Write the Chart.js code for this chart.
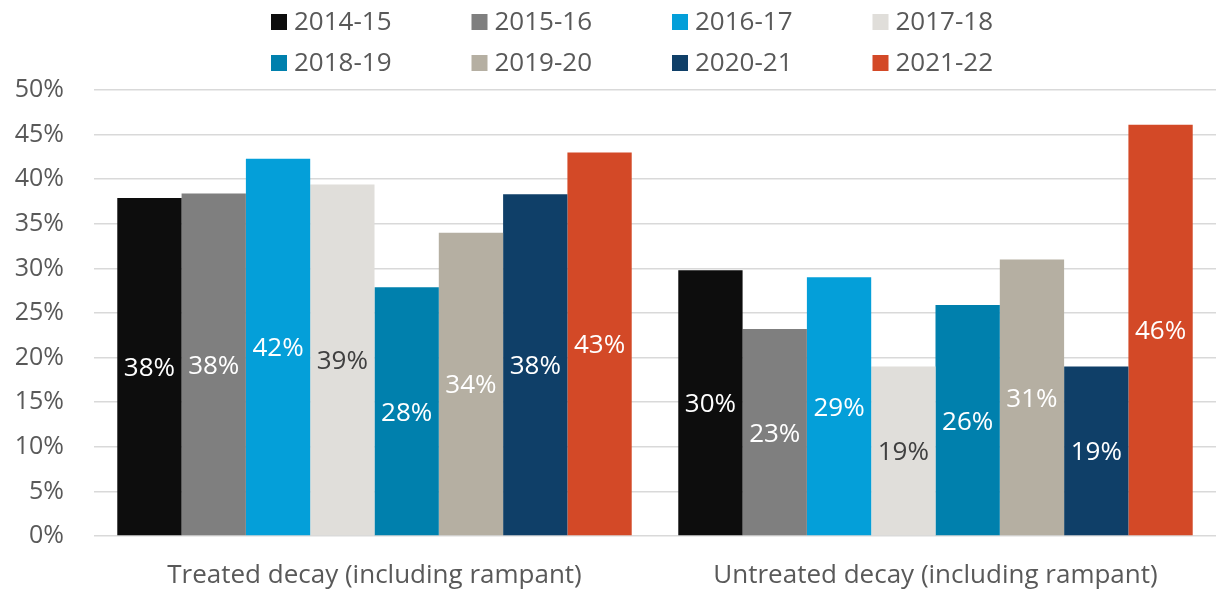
<!DOCTYPE html>
<html>
<head>
<meta charset="utf-8">
<script src="https://cdn.jsdelivr.net/npm/chart.js@4.4.1/dist/chart.umd.min.js"></script>
<style>
  html, body { margin: 0; padding: 0; background: #fff; }
  #wrap { width: 1216px; height: 594px; }
</style>
</head>
<body>
<div id="wrap"><canvas id="myChart" width="1216" height="594"></canvas></div>
<script>
const categories = ['Treated decay (including rampant)', 'Untreated decay (including rampant)'];
const years = ['2014-15', '2015-16', '2016-17', '2017-18', '2018-19', '2019-20', '2020-21', '2021-22'];

// one array per year: [treated, untreated]
const y2014_15 = [37.9, 29.8];
const y2015_16 = [38.4, 23.2];
const y2016_17 = [42.3, 29.0];
const y2017_18 = [39.4, 19.0];
const y2018_19 = [27.9, 25.9];
const y2019_20 = [34.0, 31.0];
const y2020_21 = [38.3, 19.0];
const y2021_22 = [43.0, 46.1];

const yTicks = [0, 5, 10, 15, 20, 25, 30, 35, 40, 45, 50];

const colors = ['#0d0d0d', '#7f7f7f', '#049fd9', '#e0deda', '#0080ad', '#b5afa2', '#0f3f68', '#d34927'];
const labelColors = ['#fff', '#fff', '#fff', '#404040', '#fff', '#fff', '#fff', '#fff'];

const series = [y2014_15, y2015_16, y2016_17, y2017_18, y2018_19, y2019_20, y2020_21, y2021_22];

const FONT = "'Open Sans', 'Noto Sans', sans-serif";

const data = {
  labels: categories,
  datasets: series.map((vals, i) => ({
    label: years[i],
    data: vals,
    backgroundColor: colors[i],
    borderWidth: 0,
    categoryPercentage: 0.917,
    barPercentage: 1.0
  }))
};

// value labels in the middle of each bar
const barLabels = {
  id: 'barLabels',
  afterDatasetsDraw(chart) {
    const ctx = chart.ctx;
    ctx.save();
    ctx.font = '26px ' + FONT;
    ctx.textAlign = 'center';
    ctx.textBaseline = 'middle';
    chart.data.datasets.forEach((ds, i) => {
      const meta = chart.getDatasetMeta(i);
      meta.data.forEach((bar, j) => {
        ctx.fillStyle = labelColors[i];
        ctx.fillText(Math.round(ds.data[j]) + '%', bar.x, (bar.y + bar.base) / 2 + 2);
      });
    });
    ctx.restore();
  }
};

// legend in two rows of four, like the original
const twoRowLegend = {
  id: 'twoRowLegend',
  afterDraw(chart) {
    const ctx = chart.ctx;
    ctx.save();
    ctx.font = '26px ' + FONT;
    ctx.textBaseline = 'middle';
    ctx.textAlign = 'left';
    const startX = 271, stepX = 200.5, rowY = [22, 63], box = 16;
    chart.data.datasets.forEach((ds, i) => {
      const col = i % 4, row = Math.floor(i / 4);
      const x = startX + col * stepX, y = rowY[row];
      ctx.fillStyle = ds.backgroundColor;
      ctx.fillRect(x, y - box / 2, box, box);
      ctx.fillStyle = '#595959';
      ctx.fillText(ds.label, x + box + 7, y + 1);
    });
    ctx.restore();
  }
};

const options = {
  responsive: false,
  animation: false,
  devicePixelRatio: 1,
  layout: { padding: { top: 90, left: 10, right: -8, bottom: 0 } },
  plugins: {
    legend: { display: false },
    tooltip: { enabled: false }
  },
  scales: {
    x: {
      grid: { display: false, drawTicks: false },
      border: { display: false },
      ticks: { color: '#595959', font: { family: FONT, size: 26 }, padding: 24 },
      afterFit(axis) { axis.height = 58; }
    },
    y: {
      min: 0,
      max: 50,
      afterBuildTicks(axis) { axis.ticks = yTicks.map(v => ({ value: v })); },
      afterFit(axis) { axis.width = 84; },
      grid: { color: '#d9d9d9', lineWidth: 1.5, drawTicks: false },
      border: { display: false },
      ticks: {
        color: '#595959',
        font: { family: FONT, size: 25 },
        padding: 30,
        callback: v => v + '%'
      }
    }
  }
};

const config = {
  type: 'bar',
  data: data,
  options: options,
  plugins: [barLabels, twoRowLegend]
};

const myChart = new Chart(document.getElementById('myChart'), config);
</script>
</body>
</html>
